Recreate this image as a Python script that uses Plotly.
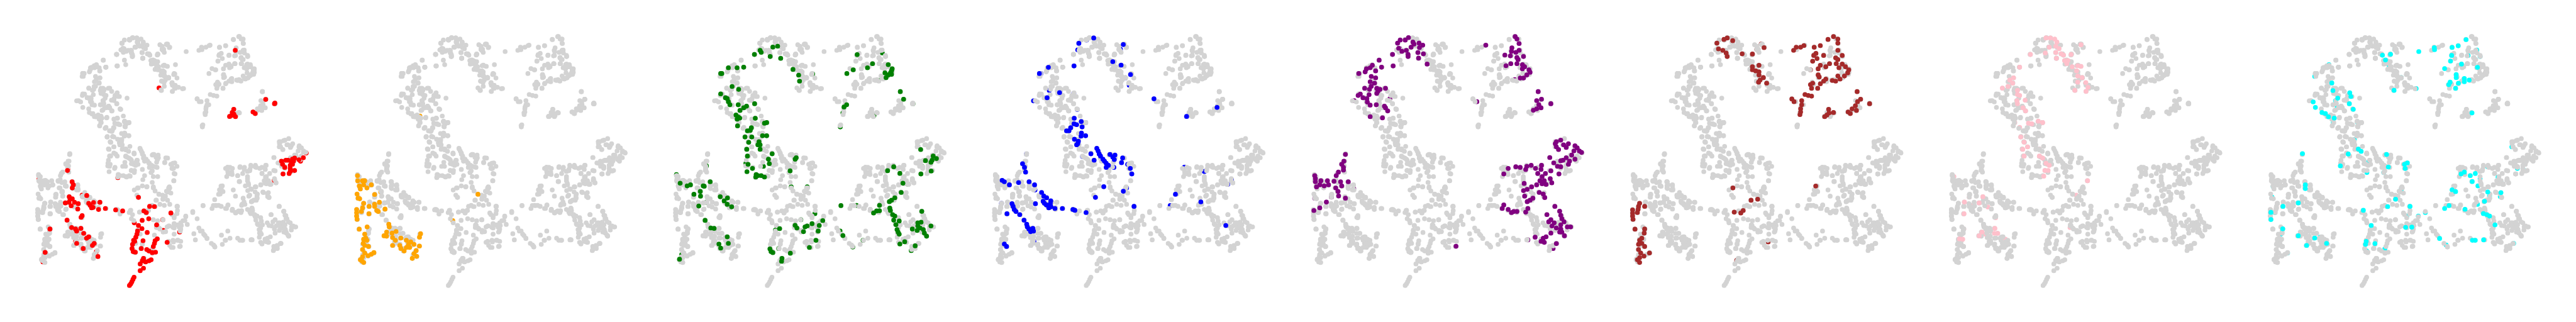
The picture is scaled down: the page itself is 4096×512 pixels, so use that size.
import plotly.graph_objects as go

# Embedding coordinates, one list per group
red = [(1074,245),(726,428),(1213,484),(1253,505),(1255,502),(1067,532),(1060,548),(1048,567),(1058,562),(1075,568),(1068,556),(1155,545),(1165,553),
(1305,780),(1315,780),(1345,770),(1385,768),(1365,778),(1330,790),(1335,775),(1285,785),(1290,800),(1300,815),(1325,805),(1335,800),(1325,820),(1345,830),(1325,835),(1320,845),(1292,847),(1340,785),(1398,745),(1372,785),(1252,878),
(310,826),(308,830),(178,872),(538,865),(329,885),(335,900),(330,915),(316,958),(320,970),(330,968),(298,988),(315,985),(340,985),(325,1002),(357,992),(355,1018),(375,1050),(370,1058),(396,952),(375,950),(405,990),(412,1000),(427,986),(425,1010),(418,1012),(450,1020),(456,985),(481,1015),(528,1022),(560,1027),(632,961),
(657,1027),(668,1035),(683,1005),(705,1006),(780,1037),(679,1065),(649,1073),(743,1070),(613,1085),(632,1098),(715,1095),(648,1113),(628,1125),(672,1132),(745,1122),(820,1130),(625,1140),(620,1155),(610,1170),(615,1175),(605,1190),(653,1172),(718,1163),(708,1172),(705,1185),(700,1200),(603,1210),(608,1225),(618,1228),(645,1210),(670,1215),(680,1222),(695,1230),(710,1228),(763,1180),(655,1258),(650,1270),(665,1275),(690,1265),(680,1270),(640,1285),(655,1306),(640,1318),(612,1350),(607,1360),(602,1372),(597,1382),(591,1390),
(306,1072),(327,1108),(345,1115),(350,1125),(369,1112),(382,1136),(405,1153),(395,1160),(345,1175),(350,1185),(430,1185),(422,1195),(380,1210),(385,1212),(447,1249),(440,1225),(228,1115),(206,1229),(196,1275)]

orange = [(162,855),(163,880),(170,905),(175,920),(185,880),(195,880),(190,900),(205,915),(225,900),(160,945),(165,965),(172,968),(240,947),(268,935),(190,990),(185,1012),(180,1030),(215,1005),(240,995),(240,1005),(262,985),(250,1025),(257,1030),(288,1018),(214,1041),(158,1020),(158,1035),(158,1052),(160,1068),(597,1074),(712,946),(447,565),
(206,1105),(170,1116),(195,1140),(200,1160),(190,1165),(205,1170),(188,1185),(195,1195),(212,1200),(185,1215),(195,1232),(210,1245),(225,1238),(237,1230),(185,1250),(175,1265),(190,1278),(182,1270),
(305,1092),(307,1105),(320,1135),(338,1127),(295,1130),(283,1148),(295,1150),(322,1157),(335,1170),(360,1159),(322,1195),(355,1195),(360,1210),(375,1222),(385,1170),(405,1178),(395,1190),(385,1205),(400,1205),(420,1190),(445,1198),(430,1220),(420,1235),(432,1248),(412,1258),(450,1138),(445,1155)]

green = [(530,245),(535,255),(504,265),(576,275),(588,229),(610,225),(624,284),(455,327),(350,358),(355,358),(385,330),(425,330),(402,421),(432,435),(350,457),(372,476),(380,480),(385,495),(392,510),(430,510),(505,505),(468,517),(455,525),(438,538),(420,560),(430,570),(425,580),(437,575),(427,613),(508,576),(550,600),(560,597),
(490,622),(472,637),(485,635),(461,667),(492,667),(541,661),(560,661),(478,693),(525,690),(520,705),(530,705),(530,727),(469,727),(472,760),(585,749),(568,775),(572,797),(465,795),(475,800),(495,820),(470,836),(545,810),(512,850),(520,855),(510,862),(535,855),(550,862),(667,832),(690,775),(695,768),
(680,298),(680,338),(706,366),(710,395),(770,360),(973,266),(1043,310),(1088,258),(955,340),(926,358),(1020,330),(1115,315),(1133,335),(1130,345),(1125,355),(1100,355),(1115,365),(1105,378),(1130,362),(1070,392),(1170,446),(1185,483),(1228,505),(925,510),(913,521),(908,550),(1050,562),(896,618),
(1263,728),(1320,760),(1335,772),(1285,782),(1315,780),(1310,790),(1270,810),(1311,833),(1264,847),(1112,831),(1140,812),(1168,844),(1182,892),(1205,897),(1174,937),(1145,963),(1130,975),(1120,982),(1075,1000),(899,1001),(970,1000),(1075,1026),(1062,1027),(1048,1037),(1122,1013),(1125,1025),(1135,1045),(1145,1052),(1140,1072),(1165,1076),(1150,1094),(1268,1029),
(1250,1085),(1265,1082),(1310,1100),(1250,1100),(1260,1110),(1225,1115),(1247,1122),(1275,1118),(1280,1135),(1290,1150),(1155,1118),(1160,1130),(1165,1140),(1190,1177),(1168,1188),(1238,1197),(1220,1220),(1000,1170),(953,1203),(908,1147),(895,1125),
(148,850),(165,892),(197,905),(212,900),(228,946),(257,932),(258,955),(250,1003),(270,905),(275,907),(302,885),(285,808),(285,985),(348,958),(381,964),(366,978),(380,995),(400,1007),
(279,1073),(305,1110),(320,1112),(380,1153),(342,1188),(318,1180),(350,1208),(385,1185),(172,1240),(162,1262),
(619,1113),(600,1120),(575,1212),(580,1225),(588,1230),(615,1210),(668,1233),(630,1258),(628,1272),(672,910),(745,910),(780,1040),(716,1070),(690,1097),(698,1110),(728,1128),(735,1105),(745,1100),(767,1089),(795,1125),(800,1098),(816,1074),(785,1170),(755,1205)]

blue = [(583,185),(550,195),(515,211),(510,243),(718,217),(705,240),(670,300),(708,317),(493,321),(376,328),(335,358),(342,358),(751,363),(727,380),(745,415),(380,440),(427,451),(492,455),(370,476),(308,491),(858,481),(508,533),(418,577),(494,576),(526,592),(546,597),(493,603),(505,607),(530,618),(478,622),(459,637),(470,637),(527,648),(525,663),(546,661),(495,678),(513,688),(510,700),(505,705),
(597,722),(603,735),(608,750),(614,760),(625,775),(632,785),(640,795),(650,805),(640,815),(570,749),(657,752),(680,755),(670,765),(677,777),(715,769),(710,792),(738,800),(750,820),(757,847),(675,815),(585,780),(532,762),
(1146,523),(1007,567),(997,814),(1088,835),(1212,875),(1195,897),(956,946),(932,1001),(1072,983),(1186,1098),
(276,750),(258,797),(267,815),(272,838),(165,878),(175,885),(198,900),(240,889),(288,885),(313,900),(315,925),(629,909),(733,915),(718,931),(591,961),(767,1005),
(345,937),(335,957),(355,955),(368,963),(387,978),(352,980),(358,990),(385,992),(367,998),(378,1012),(388,1007),(406,1015),(440,1015),(488,1020),(497,1024),(548,1035),(317,992),(162,990),
(210,992),(215,1005),(220,1020),(228,1030),(245,1045),(187,1041),(265,1072),(277,1092),(280,1105),(287,1115),(295,1128),(308,1125),(305,1112),(310,1175),(175,1188),(185,1200)]

purple = [(550,183),(535,195),(512,195),(500,210),(505,235),(520,250),(540,245),(548,265),(548,275),(570,205),(575,215),(562,230),(598,210),(615,220),(600,232),(593,256),(596,283),(618,262),(477,265),(510,237),(635,312),(416,293),(427,327),(480,321),(385,318),(375,330),(358,335),(352,350),(400,345),(323,358),
(380,372),(400,379),(375,398),(395,405),(380,420),(350,430),(372,435),(405,430),(420,435),(445,430),(410,445),(405,455),(330,458),(320,465),(370,461),(342,476),(360,480),(302,490),(362,497),(375,512),(403,510),(440,517),(445,525),(455,540),(465,480),(431,574),(375,568),
(1037,178),(1045,190),(1055,212),(903,220),(1022,233),(1020,250),(1055,245),(1040,255),(1015,272),(990,268),(1045,280),(1075,275),(1050,290),(1045,310),(1017,310),(995,320),(1070,315),(1080,325),(1100,340),(1070,335),(1105,352),(1090,365),(1075,380),(1060,380),(1035,388),
(1142,446),(1157,483),(1135,490),(1145,510),(1155,525),(1135,530),(1120,537),(1200,505),(862,495),
(1225,690),(1245,682),(1220,700),(1225,715),(1235,728),(1258,705),(1280,700),(1270,718),(1310,710),(1320,720),(1305,735),(1330,735),(1340,742),(1295,755),(1270,768),(1255,780),(1195,767),(1245,783),(1310,775),(1285,785),(1280,800),(1213,793),(1230,810),(1245,812),(1200,832),(1237,847),
(1040,812),(1060,815),(1090,810),(1110,805),(1085,825),(1130,820),(1157,805),(1155,825),(1005,820),(985,847),(1140,845),(1175,845),(1160,860),(1150,880),(1170,880),(1160,895),(1197,870),(1204,890),(1135,900),(1178,898),(1078,893),(1112,910),(1092,922),(1075,928),(1147,937),(1165,945),(1172,962),(1080,955),(1118,965),(1105,975),(1092,982),
(985,998),(978,1015),(1005,1020),(1020,1035),(1045,1030),(1030,1030),(1095,1015),(1085,1033),(1218,1005),(1240,1028),(1182,1045),(1245,1048),(1250,1065),(1200,1070),(1190,1080),(1215,1085),(1260,1080),(1245,1095),(1205,1100),(1225,1110),(1290,1105),(1275,1105),(1245,1115),(1200,1135),(1240,1130),(1262,1148),(1250,1130),(1178,1153),(1128,1155),(1165,1160),(1155,1175),(1170,1180),(1225,1186),(1095,1168),(1210,1210),(767,1199),
(262,752),(255,785),(245,800),(253,815),(253,828),(230,838),(220,855),(122,855),(125,870),(150,880),(125,885),(180,880),(210,883),(240,885),(130,910),(145,900),(165,905),(185,900),(245,905),(275,885),(300,918),(218,915),(228,932),(198,960),(231,954),(262,965),(175,984),(118,1025),(145,1012),(122,965)]

brown = [(535,185),(520,192),(488,210),(560,198),(495,238),(515,245),(530,258),(535,275),(603,262),(650,263),(703,232),(690,215),(670,240),(850,230),(885,222),(870,230),(838,245),(932,230),(960,222),(1020,178),(995,192),(1040,190),(1040,210),
(1040,245),(940,260),(930,270),(945,285),(925,298),(975,270),(1060,270),(1030,282),(1040,290),(1002,310),(1033,310),(1060,312),(1075,325),(960,318),(985,325),(950,335),(1045,330),(1090,340),(915,340),(1085,355),(1070,370),(1040,370),(1050,385),(1015,392),(1030,395),(950,365),(955,375),(985,385),(975,395),(960,408),(925,405),(915,412),(920,430),(948,430),
(650,325),(680,318),(650,340),(665,345),(680,350),(680,365),(700,378),(685,390),(678,400),(715,405),(730,420),
(1128,446),(1144,483),(1130,495),(1185,505),(1120,515),(1105,530),(1125,538),(1087,545),(1097,553),(830,482),(840,495),(890,460),(905,465),(920,468),(875,490),(875,510),(870,530),(870,545),(867,558),
(998,532),(1000,550),(1020,548),(990,560),(980,568),
(561,915),(939,906),(644,975),(674,970),(608,1025),(597,1037),(567,1033),(722,1178),(578,1268),
(135,990),(130,1005),(128,1020),(125,1035),(158,1005),(103,1022),(103,1038),(103,1052),(105,1068),(114,1116),(158,1115),(156,1135),(145,1160),(135,1170),(145,1185),(130,1190),(158,1200),(130,1215),(140,1232),(155,1247),(180,1232),(135,1255),(125,1265),(135,1278)]

pink = [(520,185),(540,185),(560,190),(570,205),(565,225),(535,230),(580,237),(492,247),(517,258),(449,265),(565,256),(590,262),(600,268),(635,265),(568,284),(680,218),(660,245),(605,295),(620,295),(615,310),(640,325),(665,320),(680,323),(660,345),(665,370),(685,378),(665,400),(702,402),(712,425),(703,445),(652,440),(400,327),(372,379),(355,390),(368,405),(347,421),(321,429),
(390,440),(390,460),(400,465),(388,490),(390,505),(425,488),(415,525),(427,540),(378,597),(440,600),(455,603),(485,590),(505,597),(400,620),(405,667),(430,665),(420,692),(414,727),(436,715),(420,760),(490,725),(490,760),(505,770),(520,795),(535,805),(515,830),(530,830),(510,858),(710,880),(658,950),(630,1108),(100,860),
(148,984),(146,1041),(170,960),(232,958),(215,988),(180,1000),(255,1008),(290,1060),(287,1112),(300,1136),(285,1136),(228,1130),(242,1140),(215,1148),(125,1163),(140,1165),(145,1115),(335,1165)]

cyan = [(319,748),(1066,193),(850,251),(921,232),(922,242),(1030,223),(1002,231),(740,240),(684,269),(721,264),(698,292),(715,320),(1115,244),(1130,275),(1075,270),(1000,270),(995,297),(1045,312),(1118,328),(968,334),(1021,363),(1021,378),(1058,382),(1058,398),(1080,390),(993,400),(987,412),(1031,405),(1018,430),(737,440),(838,431),(770,378),(440,315),(375,372),(453,404),
(458,441),(535,452),(540,470),(480,478),(368,496),(470,490),(533,505),(478,522),(378,523),(551,532),(408,548),(424,553),(438,569),(464,575),(460,597),(1093,550),(570,595),(556,680),(574,726),(587,737),(528,750),(492,808),(620,790),(703,752),(711,813),(690,840),(613,840),(798,793),(785,800),(788,820),(1058,838),(1043,847),(1085,855),(1108,845),(1130,870),(1212,862),(1094,884),(1229,893),(1120,905),(185,908),(332,900),(332,918),(770,923),(1002,924),(1018,933),(1165,935),(1173,955),(1225,938),(1222,957),(180,960),(376,955),(744,970),(1150,980),(1118,995),(300,988),(230,1005),(988,1001),(708,1006),(810,1005),(968,1015),(1061,1019),(597,1024),(880,1035),(1075,1035),(175,1034),(193,1035),(175,1069),(795,1052),(848,1052),(1145,1040),(1160,1045),(1173,1052),(633,1098),(1198,1095),(790,1107),(818,1106),(229,1114),(220,1140),(300,1148),(945,1161),(375,1159),(400,1155),(429,1185),(338,1195),(1095,1170),(1108,1170),(1146,1168),(610,1175),(607,1190),(650,1186),(1283,1185),(975,1193),(251,1232),(695,1212),(612,1222),(1370,778),(1300,820),(1327,826),(1275,715),(1165,812)]

# Members of each group that the grey dots partly cover in that group's own panel
red_under = [(726,428),(820,1130),(745,1122),(1398,745),(1372,785),(1252,878),(538,865),(178,872),(196,1275),(440,1225),(345,1175),(385,1212),(310,826),(375,950),(613,1085),(743,1070)]
orange_under = [(447,565),(597,1074),(268,935)]
green_under = [(148,850),(680,298),(770,360),(1228,505),(896,618),(908,550),(1050,562),(1270,810),(1205,897),(545,810),(672,910),(745,910),(780,1040),(716,1070),(895,1125),(953,1203),(1220,1220),(465,795),(172,1240),(318,1180),(1000,1170),(615,1210),(600,1120),(1070,392),(1088,258),(970,1000),(285,808),(285,985)]
blue_under = [(276,750),(550,195),(510,243),(705,240),(727,380),(745,415),(335,957),(315,925),(418,577),(508,533),(532,762),(1212,875),(1195,897),(310,1175),(738,800),(380,440),(492,455),(308,491),(932,1001),(546,597),(675,815),(162,990),(733,915),(342,358),(1088,835),(997,814)]
purple_under = [(302,490),(510,237),(862,495),(1095,1168),(1035,388),(122,965),(198,960),(1210,1210),(300,918),(465,480)]
brown_under = [(670,240),(690,215),(730,420),(722,1178),(578,1268),(915,340)]
pink_under = [(100,860),(630,1108),(335,1165),(290,1060),(658,950),(180,1000),(170,960),(255,1008),(378,597),(490,725),(400,620),(430,665),(492,247),(660,245),(145,1115),(242,1140)]
cyan_under = [(185,908),(180,960),(440,315),(375,372),(770,378),(1165,812),(1275,715),(1370,778),(1300,820),(1327,826),(1283,1185),(975,1193),(612,1222),(251,1232),(695,1212),(220,1140),(838,431),(1075,270),(1130,275),(1115,244),(740,240),(715,320),(613,840),(690,840),(620,790),(1120,905),(1130,870),(1118,995),(1075,1035),(880,1035),(795,1052),(848,1052),(400,1155),(470,490),(478,522),(378,523),(460,597),(570,595),(556,680),(376,955),(770,923),(1212,862),(1229,893),(1173,955),(1222,957),(193,1035)]

# Points that stay grey in every panel
other = [(730,218),(765,215),(775,230),(740,225),(745,245),(750,255),(718,268),(680,262),(690,295),(700,300),(715,310),(720,300),(745,320),(763,323),(801,315),(712,335),(735,345),(745,360),(795,358),(808,380),(770,380),(755,375),(738,395),(750,420),(735,438),(785,405),(800,415),(815,425),(833,432),(787,445),(800,430),
(605,270),(600,245),(648,256),(651,284),(532,264),(568,293),(574,315),(534,321),(471,293),(483,327),(410,345),(430,320),(440,325),(455,345),(380,360),(380,372),
(470,430),(495,430),(510,445),(525,465),(545,470),(580,478),(520,490),(460,510),(470,535),(500,525),(510,540),(548,530),(405,530),(420,555),(440,565),(460,580),(488,571),(520,580),(535,575),(563,565),(540,605),(575,605),(587,597),(570,615),(455,612),(480,625),(510,640),(490,665),(515,665),(555,650),(570,650),(587,660),(550,680),(545,695),(503,690),(520,715),(495,725),(560,722),(593,713),(575,730),(612,745),(640,725),(650,745),(520,745),(505,760),(495,780),(535,760),(580,765),(600,780),(625,780),(655,770),(695,755),(720,770),(660,785),(680,795),(715,790),(765,770),(752,790),(790,795),(808,810),(785,820),(795,845),(500,810),(525,815),(570,790),(560,810),(610,800),(630,800),(600,830),(650,825),(700,810),(690,840),(700,860),(720,860),(660,855),(652,875),(695,888),(793,880),(540,850),(575,860),(590,855),
(613,925),(628,915),(650,905),(670,910),(700,915),(708,930),(625,950),(770,915),(780,940),(765,935),(725,945),(755,955),(745,965),(712,975),(765,975),(730,995),(750,1000),(775,995),(808,1005),
(595,1025),(605,1045),(600,1065),(637,1033),(675,1025),(695,1000),(810,1025),(785,1045),(795,1060),(848,1055),(835,1075),(825,1085),(810,1095),(770,1100),(795,1090),(855,1093),(795,1110),(825,1115),(795,1140),(700,1070),(720,1075),(715,1100),(730,1115),(745,1130),(755,1128),(770,1175),(790,1170),(810,1170),(825,1175),(775,1195),(790,1205),(820,1200),(650,1190),(705,1145),(620,1185),(640,1140),(880,1030),(900,1065),(927,1001),(908,1110),(915,1125),(930,1140),(945,1160),(885,1138),(892,1168),(965,1185),(980,1200),(1011,1145),(1040,1125),(1015,1190),(1030,1170),(1050,1160),(1085,1160),(1105,1170),(1148,1167),
(980,972),(985,1000),(1010,1005),(1040,1000),(1030,1015),(1060,1025),(1100,1035),(1075,1035),(1130,1020),(1150,1015),(1145,1035),(1165,1055),(1190,1060),(1175,1090),(1237,1045),(1295,1030),(1275,1005),(1305,1050),(1310,1065),(1325,1085),(1350,1105),(1330,1120),(1315,1145),(1290,1100),(1270,1095),(1240,1100),(1220,1085),(1190,1110),(1185,1135),(1190,1180),(1210,1165),(1225,1180),(1250,1200),(1250,1215),(1280,1185),(1265,1195),
(1030,820),(1050,815),(1040,835),(1035,860),(1060,850),(1085,855),(1095,815),(1115,825),(1145,805),(1170,815),(1195,815),(1215,805),(1130,860),(1130,880),(1135,900),(1145,920),(1165,910),(1140,950),(1170,975),(1175,945),(1200,935),(1228,960),(1190,900),(1215,870),(1235,895),(1250,830),(1260,890),(1015,905),(1010,920),(1005,945),(1092,884),(1065,925),(1075,955),(1110,965),(1105,995),
(1250,767),(1275,795),(1275,690),(1295,685),(1318,675),(1280,715),(1310,705),(1330,710),(1365,715),(1385,740),(1375,760),(1345,755),
(305,800),(318,752),(315,785),(310,810),(280,845),(275,875),(265,880),(300,905),(330,905),(355,905),(350,925),(270,915),(285,935),(255,950),(255,1000),(270,1010),(300,1020),(290,1045),
(380,960),(395,985),(410,960),(435,985),(450,1010),(457,985),(484,1015),(535,1020),(548,1042),(375,1055),(320,1100),(310,1135),(350,1150),(370,1160),(405,1185),(430,1170),(460,1140),(457,1198),(338,1195),(385,1222),(430,1240),(427,1258),(183,1115),(226,1125),(226,1135),
(923,612),(926,608),(1000,410),(992,420)]

groups = [red, orange, green, blue, purple, brown, pink, cyan]
unders = [red_under, orange_under, green_under, blue_under, purple_under, brown_under, pink_under, cyan_under]
colors = ["red", "orange", "green", "blue", "purple", "brown", "pink", "cyan"]
background = "lightgray"
read_shift = [0, 14, 28, 42, 56, 70, 84, 0]   # each list was read in its own panel

scale = 4096 / 4800
panel_pitch = 594.3 / 4800
xspan = [0, 594.3 * 2.45]
yspan = [600 * 2.613, 0]
dot = 9 * scale


def shifted(points, s):
    return [(x + s, y) for x, y in points]


aligned = [shifted(g, s) for g, s in zip(groups, read_shift)]

fig = go.Figure()
layout = {}


def dots(points, color, suffix):
    fig.add_trace(go.Scatter(x=[p[0] for p in points], y=[p[1] for p in points], mode="markers",
                             marker=dict(color=color, size=dot, line=dict(width=0)),
                             xaxis="x" + suffix, yaxis="y" + suffix, showlegend=False))


for k, col in enumerate(colors):
    suffix = "" if k == 0 else str(k + 1)
    rest = list(other)
    for j, g in enumerate(aligned):
        if j != k:
            rest += g
    below = set(unders[k])
    s = read_shift[k]
    dots(shifted([p for p in groups[k] if p in below], s), col, suffix)
    dots(rest, background, suffix)
    dots(shifted([p for p in groups[k] if p not in below], s), col, suffix)
    layout["xaxis" + suffix] = dict(domain=[k * panel_pitch, (k + 1) * panel_pitch], range=xspan,
                                    visible=False, anchor="y" + suffix)
    layout["yaxis" + suffix] = dict(domain=[0, 1], range=yspan, visible=False, anchor="x" + suffix)

fig.update_layout(width=4096, height=512, margin=dict(l=0, r=0, t=0, b=0),
                  paper_bgcolor="white", plot_bgcolor="white", hovermode=False, **layout)
fig.write_html("out.html", post_script="document.body.style.margin='0';", config={"displayModeBar": False})
